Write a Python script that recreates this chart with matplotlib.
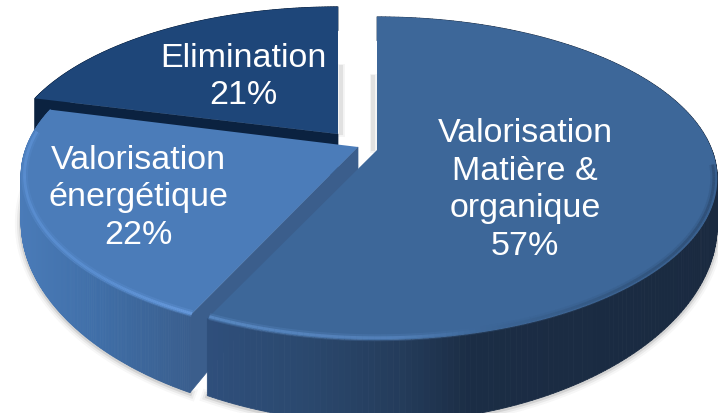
import numpy as np
import matplotlib
matplotlib.use('Agg')
import matplotlib.pyplot as plt
from matplotlib.collections import PolyCollection, LineCollection
from matplotlib.colors import to_rgb

labels = ['Valorisation\nMatière &\norganique\n57%', 'Valorisation\nénergétique\n22%', 'Elimination\n21%']
values = [57, 22, 21]

# layout, in pixels of the 718x414 picture
apex_x = [377, 358, 338]
apex_y = [151, 148, 135]
scale_x = [1, 0.99, 0.975]
scale_y = [1, 1, 0.955]
label_x = [525, 138, 243]
label_y = [190, 198, 77]
top_colors = ['#3d6799', '#4b7cb9', '#1e4679']
cut_colors = [None, '#3b5e8c', '#0b2240']
side_stops = [
    ([205, 300, 400, 470, 717], ['#2f4f7c', '#2b496f', '#243c5b', '#1b2d45', '#1a2a40']),
    ([20, 100, 185], ['#4a7bb8', '#3f6ea7', '#3a5f8f']),
    ([30, 340], ['#0b2240', '#0b2240']),
]
rim_stops = [
    ([205, 400, 480, 600, 717], ['#5f90cc', '#5886c0', '#3d6799', '#33567f', '#2c4a70']),
    ([20, 100, 185], ['#5f94d8', '#5f94d8', '#6da0e4']),
]
rim_limit = [-5, -186]

radius_x = 335
radius_y = 156.6
persp = 0.176
depth = 42


def project(ang, i, r=1.0):
    u = r * np.cos(ang)
    v = r * np.sin(ang)
    s = 1 / (1 + persp * v)
    x = apex_x[i] + radius_x * scale_x[i] * u * s
    y = apex_y[i] - radius_y * scale_y[i] * v * s
    return x, y, depth * s ** 3.5


def shade(xs, stops):
    pos, cols = stops
    rgb = np.array([to_rgb(c) for c in cols])
    return np.column_stack([np.interp(xs, pos, rgb[:, k]) for k in range(3)])


fig = plt.figure(figsize=(7.18, 4.14), dpi=100)
ax = fig.add_axes([0, 0, 1, 1])
ax.set_xlim(0, 718)
ax.set_ylim(414, 0)
ax.axis('off')

# slice limits, clockwise from 12 o'clock
edges = 90 - np.cumsum([0] + values) / sum(values) * 360

# soft shadow round the lower edge of the pie
for i in [0, 1]:
    ang = np.radians(np.linspace(edges[i], edges[i + 1], 200))
    x, y, d = project(ang, i)
    keep = y + d > apex_y[i] + 40
    for lw, al in [(9, 0.04), (6, 0.07), (3, 0.12)]:
        ax.plot(x[keep], (y + d)[keep] + 1, color='#333333', lw=lw, alpha=al, zorder=1)

# little shadows that the slices cast on the white gap
for x0, y0, y1 in [(341, 68, 134), (373, 78, 150)]:
    for lw, al in [(5, 0.06), (3, 0.12)]:
        ax.plot([x0, x0], [y0, y1], color='#555555', lw=lw, alpha=al, zorder=1)

# back slice first, so the front ones cover it
for i in [2, 1, 0]:
    z = 10 * (3 - i)
    ang = np.radians(np.linspace(edges[i], edges[i + 1], 240))
    x, y, d = project(ang, i)

    quads = []
    for k in range(len(ang) - 1):
        quads.append([(x[k], y[k]), (x[k + 1], y[k + 1]),
                      (x[k + 1], y[k + 1] + d[k + 1]), (x[k], y[k] + d[k])])
    mids = (x[:-1] + x[1:]) / 2
    cols = shade(mids, side_stops[i])
    ax.add_collection(PolyCollection(quads, facecolors=cols, edgecolors=cols, linewidths=0.6, zorder=z))

    # straight cut face, on the clockwise-start side of the slice
    if cut_colors[i]:
        ax.fill([apex_x[i], x[0], x[0], apex_x[i]],
                [apex_y[i], y[0], y[0] + d[0], apex_y[i] + depth],
                color=cut_colors[i], lw=0.5, zorder=z + 1)

    ax.fill(np.r_[apex_x[i], x], np.r_[apex_y[i], y], color=top_colors[i], lw=0, zorder=z + 2)

    # lit bevel along the front rim
    if i < 2:
        xr, yr, _ = project(ang, i, 0.99)
        keep = ang < np.radians(rim_limit[0]) if i == 0 else ang > np.radians(rim_limit[1])
        xr, yr = xr[keep], yr[keep]
        pts = np.column_stack([xr, yr])
        segs = np.stack([pts[:-1], pts[1:]], axis=1)
        rim = shade((xr[:-1] + xr[1:]) / 2, rim_stops[i])
        ax.add_collection(LineCollection(segs, colors=rim, linewidths=5, alpha=0.25, zorder=z + 3))
        ax.add_collection(LineCollection(segs, colors=rim, linewidths=2, alpha=0.7, zorder=z + 3))

    ax.text(label_x[i], label_y[i], labels[i], color='white', ha='center', va='center',
            family='Liberation Sans', fontsize=24.5, linespacing=1.27, zorder=50)

fig.savefig('out.png', dpi=100)
